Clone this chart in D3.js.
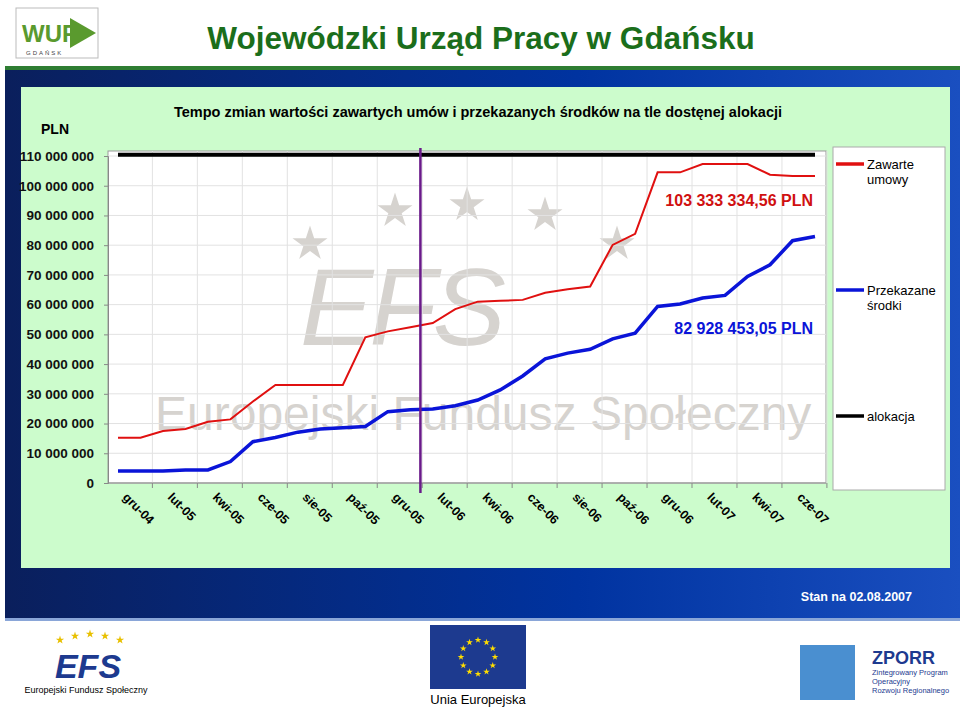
<!DOCTYPE html>
<html><head><meta charset="utf-8">
<script src="https://cdn.jsdelivr.net/npm/d3@7"></script>
<style>body{margin:0;background:#fff}svg{display:block;font-family:Arial,"Liberation Sans",sans-serif}</style>
</head><body><svg id="c" width="960" height="716"></svg>
<script>
// Data
const months = ["gru-04","sty-05","lut-05","mar-05","kwi-05","maj-05","cze-05","lip-05","sie-05","wrz-05","paź-05","lis-05",
  "gru-05","sty-06","lut-06","mar-06","kwi-06","maj-06","cze-06","lip-06","sie-06","wrz-06","paź-06","lis-06",
  "gru-06","sty-07","lut-07","mar-07","kwi-07","maj-07","cze-07","lip-07"];
const zawarte = [15.2,15.2,17.5,18.2,20.6,21.4,27.4,33,33,33,33,49,51,52.4,53.8,58.5,61,61.3,61.6,64,65.2,66.1,80.1,83.8,
  104.5,104.5,107.3,107.3,107.3,103.7,103.3,103.3];
const przekazane = [4,4,4,4.4,4.4,7.2,13.9,15.3,17.1,18.2,18.6,19,24,24.6,24.9,26,27.9,31.3,36,41.8,43.7,45,48.5,50.4,
  59.4,60.2,62.2,63.1,69.5,73.4,81.5,82.93];
const alokacja = months.map(() => 110.4);
const yTicks = [0,10,20,30,40,50,60,70,80,90,100,110];
const markerIndex = 13.45;

const svg = d3.select("#c");
const fmt = v => v === 0 ? "0" : d3.format(",")(v * 1e6).replace(/,/g, " ");

// page frame
svg.append("rect").attr("x",5).attr("y",66).attr("width",955).attr("height",4).attr("fill","#2e7d32");
const g0 = svg.append("defs").append("linearGradient").attr("id","bg").attr("x1",0).attr("x2",1).attr("y1",0).attr("y2",0);
g0.append("stop").attr("offset",0).attr("stop-color","#0a1f5c");
g0.append("stop").attr("offset",0.6).attr("stop-color","#0033a0");
g0.append("stop").attr("offset",1).attr("stop-color","#1a4fc0");
svg.append("rect").attr("x",5).attr("y",70).attr("width",955).attr("height",548).attr("fill","url(#bg)");
svg.append("rect").attr("x",5).attr("y",618).attr("width",955).attr("height",3).attr("fill","#8aa6d8");
svg.append("rect").attr("x",21).attr("y",87).attr("width",929).attr("height",481).attr("fill","#ccfccc");

// header
svg.append("text").attr("x",481).attr("y",49).attr("text-anchor","middle").attr("font-size",31.5).attr("font-weight","bold")
  .attr("fill","#1b6e1b").text("Wojewódzki Urząd Pracy w Gdańsku");
svg.append("rect").attr("x",16).attr("y",8).attr("width",82).attr("height",50).attr("fill","#fff").attr("stroke","#bbb");
svg.append("text").attr("x",22).attr("y",42).attr("font-size",24).attr("font-weight","bold").attr("fill","#5a9a2e").text("WUP");
svg.append("path").attr("d","M70 18 L96 33 L70 48 Z").attr("fill","#5a9a2e");
svg.append("text").attr("x",26).attr("y",55).attr("font-size",6).attr("fill","#444").attr("letter-spacing",2).text("GDAŃSK");

// chart
const x = d3.scaleLinear().domain([0, months.length - 1]).range([118, 815]);
const y = d3.scaleLinear().domain([0, 110]).range([483, 156]);
const px0 = 108, px1 = 826, py0 = 151, py1 = 483;

svg.append("text").attr("x",478).attr("y",117).attr("text-anchor","middle").attr("font-size",14.5).attr("font-weight","bold")
  .text("Tempo zmian wartości zawartych umów i przekazanych środków  na tle dostęnej alokacji");
svg.append("text").attr("x",55).attr("y",134).attr("text-anchor","middle").attr("font-size",14).attr("font-weight","bold").text("PLN");

svg.append("rect").attr("x",px0).attr("y",py0).attr("width",px1-px0).attr("height",py1-py0).attr("fill","#fff").attr("stroke","#999");

// watermark
const wm = svg.append("g").attr("fill","#d6d3cf");
[[310,244],[395,211],[467,205],[545,215],[617,244]].forEach(([cx,cy]) =>
  wm.append("path").attr("d", d3.symbol(d3.symbolStar, 380)()).attr("transform",`translate(${cx},${cy})`));
wm.append("text").attr("x",300).attr("y",345).attr("font-size",110).attr("font-style","italic")
  .attr("letter-spacing",-4).text("EFS");
wm.append("text").attr("x",155).attr("y",430).attr("font-size",48).text("Europejski Fundusz Społeczny");

const grid = svg.append("g").attr("stroke","#e2e2e2").attr("stroke-width",1);
yTicks.forEach(t => grid.append("line").attr("x1",px0).attr("x2",px1).attr("y1",y(t)).attr("y2",y(t)));
d3.range(1.53, months.length, 2).forEach(i => grid.append("line").attr("x1",x(i)).attr("x2",x(i)).attr("y1",py0).attr("y2",py1));

const yAxis = svg.append("g").attr("transform",`translate(${px0},0)`)
  .call(d3.axisLeft(y).tickValues(yTicks).tickFormat(fmt).tickSize(4).tickPadding(10));
yAxis.select(".domain").attr("stroke","#888");
yAxis.selectAll("line").attr("stroke","#888");
yAxis.selectAll("text").attr("font-size",13.5).attr("font-weight","bold").attr("fill","#111");

const xb = svg.append("g");
xb.append("line").attr("x1",px0).attr("x2",px1).attr("y1",py1).attr("y2",py1).attr("stroke","#888");
d3.range(1.53, months.length, 2).forEach(i => xb.append("line").attr("x1",x(i)).attr("x2",x(i)).attr("y1",py1).attr("y2",py1+5).attr("stroke","#888"));
months.forEach((m, i) => {
  if (i % 2) return;
  xb.append("text").attr("transform",`translate(${x(i)+4},${py1+15}) rotate(45)`).attr("font-size",12.5)
    .attr("font-weight","bold").text(m);
});

const line = d3.line().x((d,i) => x(i)).y(d => y(d));
svg.append("path").datum(alokacja).attr("d",line).attr("fill","none").attr("stroke","#000").attr("stroke-width",4);
svg.append("path").datum(zawarte).attr("d",line).attr("fill","none").attr("stroke","#e01010").attr("stroke-width",2);
svg.append("path").datum(przekazane).attr("d",line).attr("fill","none").attr("stroke","#0a14d8").attr("stroke-width",3.5);
svg.append("line").attr("x1",x(markerIndex)).attr("x2",x(markerIndex)).attr("y1",148).attr("y2",py1+10)
  .attr("stroke","#6a1a8a").attr("stroke-width",2.5);

svg.append("text").attr("x",813).attr("y",206).attr("text-anchor","end").attr("font-size",16).attr("font-weight","bold")
  .attr("fill","#d01010").text("103 333 334,56 PLN");
svg.append("text").attr("x",813).attr("y",334).attr("text-anchor","end").attr("font-size",16).attr("font-weight","bold")
  .attr("fill","#0a14d8").text("82 928 453,05 PLN");

// legend
const lg = svg.append("g");
lg.append("rect").attr("x",833).attr("y",147).attr("width",112).attr("height",343).attr("fill","#fff").attr("stroke","#aaa");
[["#e01010",164,["Zawarte","umowy"]],["#0a14d8",290,["Przekazane","środki"]],["#000",416,["alokacja"]]].forEach(([c,yy,t]) => {
  lg.append("line").attr("x1",836).attr("x2",864).attr("y1",yy).attr("y2",yy).attr("stroke",c).attr("stroke-width",3.5);
  t.forEach((s,k) => lg.append("text").attr("x",867).attr("y",yy+5+k*15).attr("font-size",13).text(s));
});

// footer
svg.append("text").attr("x",912).attr("y",601).attr("text-anchor","end").attr("font-size",12.5).attr("font-weight","bold")
  .attr("fill","#fff").text("Stan na 02.08.2007");
svg.append("rect").attr("x",430).attr("y",625).attr("width",96).attr("height",64).attr("fill","#1d3a8f");
const eu = svg.append("g").attr("fill","#ffdd00");
d3.range(12).forEach(k => eu.append("path").attr("d",d3.symbol(d3.symbolStar,14)())
  .attr("transform",`translate(${478+17*Math.sin(k*Math.PI/6)},${657-17*Math.cos(k*Math.PI/6)})`));
svg.append("text").attr("x",478).attr("y",704).attr("text-anchor","middle").attr("font-size",13).text("Unia Europejska");
svg.append("text").attr("x",88).attr("y",678).attr("text-anchor","middle").attr("font-size",34).attr("font-style","italic")
  .attr("font-weight","bold").attr("fill","#1d3a8f").text("EFS");
const ef = svg.append("g").attr("fill","#e8c000");
[[60,640],[75,636],[90,634],[105,636],[120,640]].forEach(([a,b]) => ef.append("path").attr("d",d3.symbol(d3.symbolStar,22)()).attr("transform",`translate(${a},${b})`));
svg.append("text").attr("x",86).attr("y",693).attr("text-anchor","middle").attr("font-size",9).text("Europejski Fundusz Społeczny");
svg.append("rect").attr("x",800).attr("y",645).attr("width",55).attr("height",55).attr("fill","#4a8fd0");
svg.append("text").attr("x",872).attr("y",664).attr("font-size",18).attr("font-weight","bold").attr("fill","#1d3a8f").text("ZPORR");
["Zintegrowany Program","Operacyjny","Rozwoju Regionalnego"].forEach((s,k) =>
  svg.append("text").attr("x",872).attr("y",675+k*9).attr("font-size",7.5).attr("fill","#1d3a8f").text(s));
</script></body></html>
